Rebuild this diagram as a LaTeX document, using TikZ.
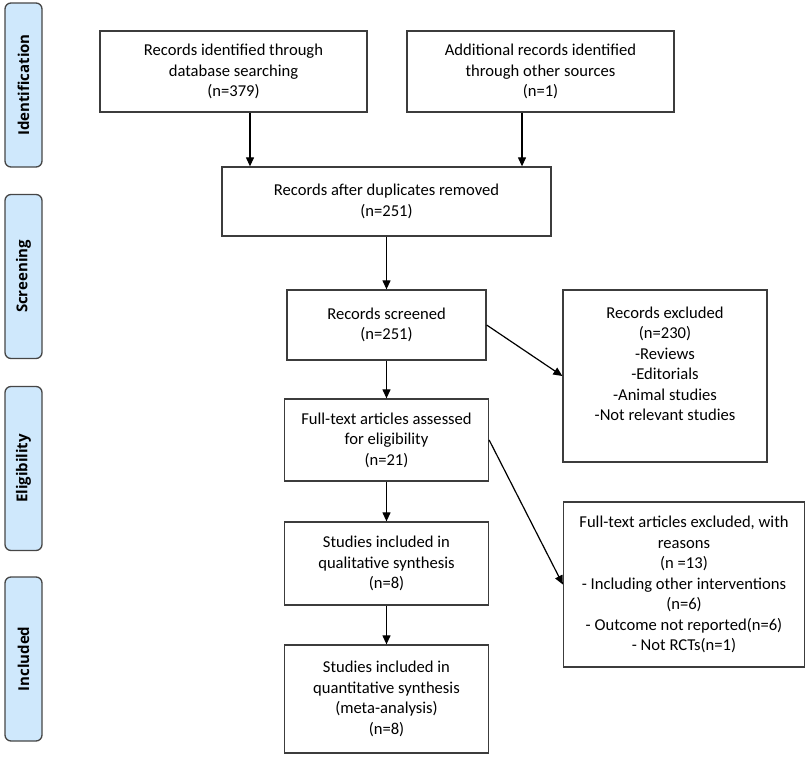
\documentclass[tikz,border=0pt]{standalone}
\usepackage{fontspec}
\setmainfont{Carlito}
\newfontfamily\barfont{Open Sans}
\usetikzlibrary{arrows.meta}
\definecolor{boxgray}{RGB}{60,60,60}
\definecolor{bargray}{RGB}{70,70,70}
\definecolor{barblue}{RGB}{207,232,252}
\begin{document}
\begin{tikzpicture}[x=1pt,y=-1pt,
  box/.style={draw=boxgray, line width=1.3pt, inner sep=0pt, align=center,
    font=\fontsize{16.6}{20.5}\selectfont},
  plain/.style={inner sep=0pt, align=center, font=\fontsize{16.6}{20.5}\selectfont},
  bar/.style={draw=bargray, fill=barblue, line width=1.3pt, rounded corners=6pt,
    rotate=90, minimum width=164pt, minimum height=37pt, inner sep=0pt,
    font=\barfont\bfseries\fontsize{15}{18}\selectfont},
  arr/.style={-{Triangle[width=8pt,length=9pt]}, line width=1.2pt, black}]
\useasboundingbox (0,0) rectangle (809,758);
% side bars
\node[bar] (s1) at (23.5,85) {Identification};
\node[bar] (s2) at (23.5,276.5) {Screening};
\node[bar] (s3) at (23.5,468.5) {Eligibility};
\node[bar] (s4) at (23.5,659) {Included};
% boxes
\node[box, minimum width=267pt, minimum height=81pt] (b1) at (233.5,71.5)
  {Records identified through\\database searching\\(n=379)};
\node[box, minimum width=267pt, minimum height=81pt] (b2) at (540.5,71.5)
  {Additional records identified\\through other sources\\(n=1)};
\node[box, minimum width=329pt, minimum height=69pt] (b3) at (386.5,201.5)
  {Records after duplicates removed\\(n=251)};
\node[box, minimum width=199pt, minimum height=70pt] (b4) at (386.5,325)
  {Records screened\\(n=251)};
\node[box, minimum width=204pt, minimum height=172pt] (b5) at (665,376) {};
\node[plain] (b5t) at (665,364)
  {Records excluded\\(n=230)\\-Reviews\\-Editorials\\-Animal studies\\-Not relevant studies};
\node[box, minimum width=204pt, minimum height=82pt] (b6) at (386.5,440)
  {Full-text articles assessed\\for eligibility\\(n=21)};
\node[box, minimum width=204pt, minimum height=83pt] (b7) at (386.5,563.5)
  {Studies included in\\qualitative synthesis\\(n=8)};
\node[box, minimum width=241pt, minimum height=165pt] (b8) at (684,584.5)
  {Full-text articles excluded, with\\reasons\\(n =13)\\- Including other interventions\\(n=6)\\- Outcome not reported(n=6)\\- Not RCTs(n=1)};
\node[box, minimum width=204pt, minimum height=108pt] (b9) at (386.5,699)
  {Studies included in\\quantitative synthesis\\(meta-analysis)\\(n=8)};
% connectors
\coordinate (c1) at (250,0);
\coordinate (c2) at (522,0);
\draw[arr] (b1.south -| c1) -- (b3.north -| c1);
\draw[arr] (b2.south -| c2) -- (b3.north -| c2);
\draw[arr] (b3) -- (b4);
\draw[arr] (b4) -- (b6);
\draw[arr] (b6) -- (b7);
\draw[arr] (b7) -- (b9);
\draw[arr] (b4.east) -- (b5.west);
\draw[arr] (b6.east) -- (b8.west);
\end{tikzpicture}
\end{document}
